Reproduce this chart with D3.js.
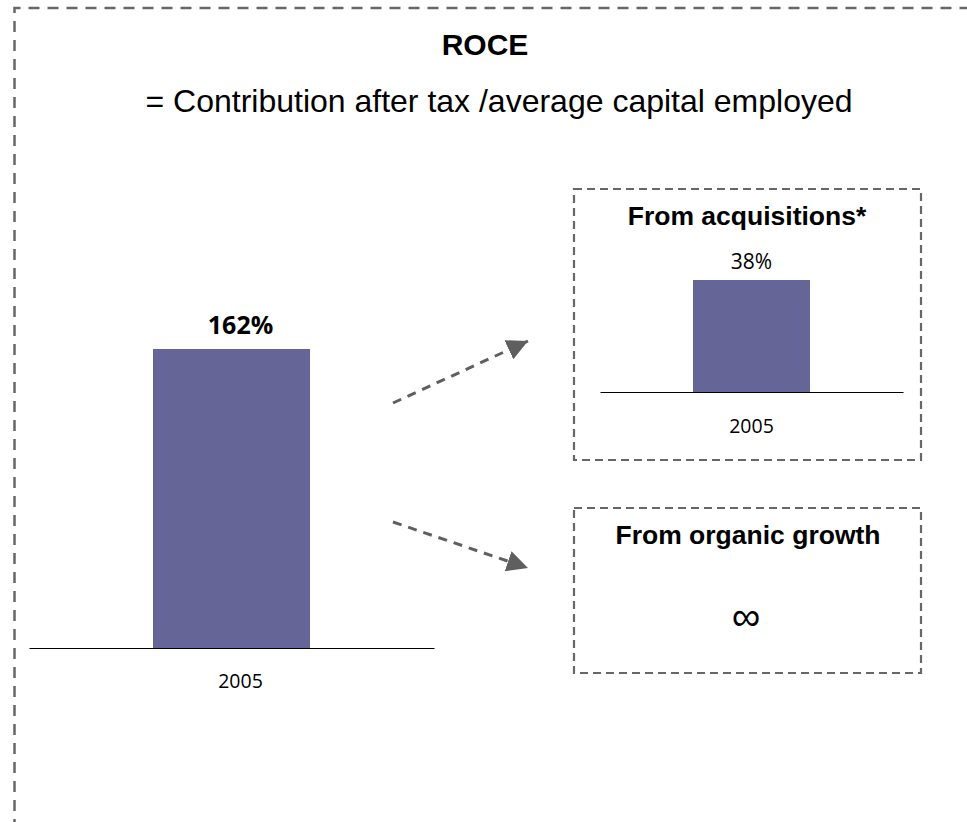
<!DOCTYPE html>
<html>
<head>
<meta charset="utf-8">
<script src="https://cdn.jsdelivr.net/npm/d3@7"></script>
<style>
  html, body { margin: 0; padding: 0; background: #fff; }
  svg { display: block; }
</style>
</head>
<body>
<svg id="chart" width="967" height="822"></svg>
<script>
// ROCE figures
const years = ["2005"];
const roceTotal = [162];        // %
const roceAcquisitions = [38];  // %
const organicLabel = "\u221E";  // infinite ROCE from organic growth

const titleText = "ROCE";
const subtitleText = "= Contribution after tax /average capital employed";
const acqTitle = "From acquisitions*";
const orgTitle = "From organic growth";

const barColor = "#656597";
const dashGrey = "#676767";
const sansBold = "'Liberation Sans', Arial, sans-serif";
const labelFont = "'Open Sans', 'Noto Sans', sans-serif";

const svg = d3.select("#chart");

// Outer dashed frame (runs off the right and bottom edges)
svg.append("path")
  .attr("d", "M14.5,830 L14.5,8 L980,8")
  .attr("fill", "none")
  .attr("stroke", dashGrey)
  .attr("stroke-width", 2.5)
  .attr("stroke-dasharray", "11,8");

// Headings
svg.append("text")
  .attr("x", 485).attr("y", 55)
  .attr("text-anchor", "middle")
  .style("font-family", sansBold).style("font-weight", "bold").style("font-size", "30px")
  .text(titleText);

svg.append("text")
  .attr("x", 499).attr("y", 112)
  .attr("text-anchor", "middle")
  .style("font-family", sansBold).style("font-size", "32px")
  .text(subtitleText);

// Single-bar chart helper
function barChart(g, opt) {
  const x = d3.scaleBand().domain(years).range([opt.x0, opt.x1]).paddingInner(0).paddingOuter(0);
  const bw = opt.barWidth;
  const y = d3.scaleLinear().domain([0, opt.maxVal]).range([opt.base, opt.top]);

  g.selectAll("rect.bar").data(opt.values).join("rect")
    .attr("class", "bar")
    .attr("x", (d, i) => x(years[i]) + x.bandwidth() / 2 - bw / 2)
    .attr("width", bw)
    .attr("y", d => y(d))
    .attr("height", d => y(0) - y(d))
    .attr("fill", barColor);

  // category axis along the baseline
  const axis = d3.axisBottom(x).tickSize(0).tickPadding(opt.tickPad);
  const ag = g.append("g").attr("transform", `translate(0,${y(0)})`).call(axis);
  ag.select(".domain").attr("stroke", "#000").attr("stroke-width", 1);
  ag.selectAll(".tick text")
    .attr("dx", opt.tickDx)
    .style("font-family", labelFont).style("font-size", opt.tickSize).attr("fill", "#000");

  // value labels
  g.selectAll("text.val").data(opt.values).join("text")
    .attr("class", "val")
    .attr("x", (d, i) => x(years[i]) + x.bandwidth() / 2 + opt.valDx)
    .attr("y", d => y(d) - opt.valGap)
    .attr("text-anchor", "middle")
    .style("font-family", labelFont).style("font-weight", opt.valWeight).style("font-size", opt.valSize)
    .text(d => d + "%");
}

// Main ROCE bar
barChart(svg.append("g"), {
  x0: 29, x1: 434, barWidth: 157,
  base: 648, top: 349, maxVal: roceTotal[0],
  values: roceTotal, tickPad: 26, tickDx: 9, tickSize: "19.5px",
  valGap: 15, valDx: 9, valWeight: "bold", valSize: "25px"
});

// Dashed boxes on the right
function dashedBox(x0, y0, x1, y1) {
  svg.append("rect")
    .attr("x", x0).attr("y", y0).attr("width", x1 - x0).attr("height", y1 - y0)
    .attr("fill", "none")
    .attr("stroke", dashGrey)
    .attr("stroke-width", 2.2)
    .attr("stroke-dasharray", "8,5");
}
dashedBox(574, 189, 921, 460);
dashedBox(574, 508, 921, 673);

svg.append("text")
  .attr("x", 747).attr("y", 225)
  .attr("text-anchor", "middle")
  .style("font-family", sansBold).style("font-weight", "bold").style("font-size", "26.5px")
  .text(acqTitle);

barChart(svg.append("g"), {
  x0: 600, x1: 903, barWidth: 117,
  base: 392, top: 280, maxVal: roceAcquisitions[0],
  values: roceAcquisitions, tickPad: 27, tickDx: 0, tickSize: "19.5px",
  valGap: 11, valDx: 0, valWeight: "normal", valSize: "21px"
});

svg.append("text")
  .attr("x", 748).attr("y", 544)
  .attr("text-anchor", "middle")
  .style("font-family", sansBold).style("font-weight", "bold").style("font-size", "26.5px")
  .text(orgTitle);

svg.append("text")
  .attr("x", 746).attr("y", 630)
  .attr("text-anchor", "middle")
  .style("font-family", sansBold).style("font-size", "40px")
  .text(organicLabel);

// Dashed arrows splitting the total into the two components
const defs = svg.append("defs");
defs.append("marker")
  .attr("id", "arrowHead")
  .attr("viewBox", "0 0 10 10")
  .attr("refX", 10).attr("refY", 5)
  .attr("markerWidth", 7).attr("markerHeight", 7)
  .attr("markerUnits", "strokeWidth")
  .attr("orient", "auto")
  .append("path").attr("d", "M0,0 L10,5 L0,10 Z").attr("fill", "#5f5f5f");

const arrows = [
  { x1: 393, y1: 403, x2: 528, y2: 341 },
  { x1: 393, y1: 522, x2: 528, y2: 568 }
];
svg.selectAll("line.arrow").data(arrows).join("line")
  .attr("class", "arrow")
  .attr("x1", d => d.x1).attr("y1", d => d.y1)
  .attr("x2", d => d.x2).attr("y2", d => d.y2)
  .attr("stroke", "#5f5f5f")
  .attr("stroke-width", 3)
  .attr("stroke-dasharray", "9,7")
  .attr("marker-end", "url(#arrowHead)");
</script>
</body>
</html>
